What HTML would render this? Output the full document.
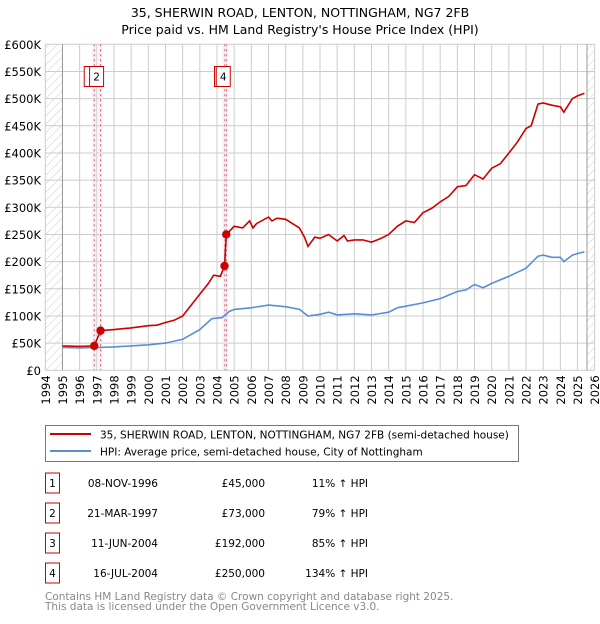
<!DOCTYPE html>
<html><head><meta charset="utf-8"><style>
body{margin:0;background:#fff;width:600px;height:620px;overflow:hidden;font-family:"DejaVu Sans","Liberation Sans",sans-serif}
svg text{font-family:"DejaVu Sans","Liberation Sans",sans-serif}
</style></head><body>
<svg id="chart" width="600" height="620" viewBox="0 0 600 620">
<g id="grid"></g><g id="series"></g><g id="axes"></g>
<text x="300" y="17" text-anchor="middle" font-size="12.5">35, SHERWIN ROAD, LENTON, NOTTINGHAM, NG7 2FB</text>
<text x="300" y="34" text-anchor="middle" font-size="12.5">Price paid vs. HM Land Registry's House Price Index (HPI)</text>
<g>
<rect x="45.5" y="425.5" width="473" height="36" fill="#fff" stroke="#777"/>
<line x1="50" y1="434" x2="91" y2="434" stroke="#cc0000" stroke-width="2"/>
<text x="100" y="438.5" font-size="10.5">35, SHERWIN ROAD, LENTON, NOTTINGHAM, NG7 2FB (semi-detached house)</text>
<line x1="50" y1="451" x2="91" y2="451" stroke="#5b8dd6" stroke-width="2"/>
<text x="100" y="455.5" font-size="10.5">HPI: Average price, semi-detached house, City of Nottingham</text>
</g>
<g id="table" font-size="10.5"></g>
<text x="45" y="600" font-size="10.5" fill="#888">Contains HM Land Registry data © Crown copyright and database right 2025.</text>
<text x="45" y="610" font-size="10.5" fill="#888">This data is licensed under the Open Government Licence v3.0.</text>
</svg>
<script>
const NS="http://www.w3.org/2000/svg";
const redT=[1995,1996,1996.85,1997.22,1998,1999,2000,2000.5,2001,2001.5,2002,2002.5,2003,2003.5,2003.8,2004.2,2004.44,2004.54,2005,2005.5,2005.9,2006.1,2006.3,2007,2007.2,2007.5,2008,2008.5,2008.8,2009.1,2009.3,2009.7,2010,2010.5,2011,2011.4,2011.6,2012,2012.5,2013,2013.5,2014,2014.5,2015,2015.5,2016,2016.5,2017,2017.5,2018,2018.5,2019,2019.5,2020,2020.5,2021,2021.5,2022,2022.3,2022.7,2023,2023.5,2024,2024.2,2024.7,2025,2025.4];
const redV=[45,44,45,73,75,78,82,83,88,92,100,120,140,160,175,173,192,250,265,262,275,262,270,282,275,280,278,268,262,245,228,245,243,250,238,248,238,240,240,236,242,250,265,275,272,290,298,310,320,338,340,360,352,372,380,400,420,445,450,490,492,488,485,475,500,505,510];
const blueT=[1995,1996,1997,1998,1999,2000,2001,2002,2003,2003.7,2004.3,2004.7,2005,2006,2007,2008,2008.8,2009.3,2010,2010.5,2011,2012,2013,2014,2014.5,2015,2016,2017,2018,2018.5,2019,2019.5,2020,2021,2022,2022.7,2023,2023.5,2024,2024.2,2024.7,2025,2025.4];
const blueV=[42,41,42,43,45,47,50,57,75,95,97,108,112,115,120,117,112,100,103,107,102,104,102,107,115,118,124,132,145,148,158,152,160,173,188,210,212,208,208,200,212,215,218];
const saleT=[1996.85,1997.22,2004.44,2004.54];
const saleV=[45,73,192,250];
const saleLabels=["1","2","3","4"];
const saleDates=["08-NOV-1996","21-MAR-1997","11-JUN-2004","16-JUL-2004"];
const salePrices=["£45,000","£73,000","£192,000","£250,000"];
const saleHpi=["11% ↑ HPI","79% ↑ HPI","85% ↑ HPI","134% ↑ HPI"];
const yTicks=[0,50,100,150,200,250,300,350,400,450,500,550,600];
const yTickLabels=["£0","£50K","£100K","£150K","£200K","£250K","£300K","£350K","£400K","£450K","£500K","£550K","£600K"];
const xTicks=[1994,1995,1996,1997,1998,1999,2000,2001,2002,2003,2004,2005,2006,2007,2008,2009,2010,2011,2012,2013,2014,2015,2016,2017,2018,2019,2020,2021,2022,2023,2024,2025,2026];
const X0=45.3,X1=594.7,Y0=370.3,Y1=44.3;
const xs=t=>X0+(t-1994)/32*(X1-X0);
const ys=v=>Y0-v/600*(Y0-Y1);
function mk(tag,attrs,parent){const e=document.createElementNS(NS,tag);for(const k in attrs)e.setAttribute(k,attrs[k]);parent.appendChild(e);return e;}
const grid=document.getElementById('grid'),series=document.getElementById('series'),axes=document.getElementById('axes'),table=document.getElementById('table');
const defs=mk('defs',{},grid);
const pat=mk('pattern',{id:'hatch',width:6,height:6,patternUnits:'userSpaceOnUse',patternTransform:'rotate(45)'},defs);
mk('line',{x1:0,y1:0,x2:0,y2:6,stroke:'#ccc','stroke-width':1},pat);
let h1=mk('rect',{x:xs(1994),y:Y1,width:xs(1995)-xs(1994),height:Y0-Y1,fill:'url(#hatch)'},grid);


let h2=mk('rect',{x:xs(2025.55),y:Y1,width:X1-xs(2025.55),height:Y0-Y1,fill:'url(#hatch)'},grid);


xTicks.forEach(t=>{mk('line',{x1:xs(t),y1:Y1,x2:xs(t),y2:Y0,stroke:'#ccc','stroke-width':1},grid);
 const tx=mk('text',{x:0,y:0,transform:`translate(${xs(t)+4.5},${Y0+5}) rotate(-90)`,'text-anchor':'end','font-size':'11.5'},axes);tx.textContent=t;
 
 });
yTicks.forEach((v,i)=>{mk('line',{x1:X0,y1:ys(v),x2:X1,y2:ys(v),stroke:'#ccc','stroke-width':1},grid);
 const tx=mk('text',{x:41,y:ys(v)+4.5,'text-anchor':'end','font-size':'11.5'},axes);tx.textContent=yTickLabels[i];
 
 });
mk('line',{x1:xs(1995),y1:Y1,x2:xs(1995),y2:Y0,stroke:'#999'},grid);
mk('line',{x1:xs(2025.55),y1:Y1,x2:xs(2025.55),y2:Y0,stroke:'#999'},grid);
saleT.forEach(t=>{mk('rect',{x:xs(t)-2,y:Y1,width:4,height:Y0-Y1,fill:'#dde6f5',opacity:0.5},grid);
 mk('line',{x1:xs(t),y1:Y1,x2:xs(t),y2:Y0,stroke:'#ee5555','stroke-width':1,'stroke-dasharray':'2,3'},grid);});
const path=(T,V)=>T.map((t,i)=>(i?'L':'M')+xs(t).toFixed(1)+','+ys(V[i]).toFixed(1)).join('');
const bl=mk('path',{d:path(blueT,blueV),fill:'none',stroke:'#5b8dd6','stroke-width':1.6},series);


const rl=mk('path',{d:path(redT,redV),fill:'none',stroke:'#cc0000','stroke-width':1.6},series);


saleT.forEach((t,i)=>{const c=mk('circle',{cx:xs(t),cy:ys(saleV[i]),r:4.2,fill:'#cc0000'},series);
 
 });
[0,1,2,3].forEach(i=>{const bx=xs(saleT[i])-(i==1?11:10);const g=mk('g',{},series);
 
 
 mk('rect',{x:bx,y:66.5,width:14,height:20,fill:'#fff',stroke:'#cc0000'},g);
 const tx=mk('text',{x:bx+7,y:80.5,'text-anchor':'middle','font-size':'10.5'},g);tx.textContent=saleLabels[i];});
saleT.forEach((t,i)=>{const cy=483+i*30;const g=mk('g',{},table);
 
 
 mk('rect',{x:45.5,y:cy-10,width:14,height:20,fill:'#fff',stroke:'#cc0000'},g);
 let a=mk('text',{x:52.5,y:cy+4,'text-anchor':'middle'},g);a.textContent=saleLabels[i];
 let b=mk('text',{x:158,y:cy+4,'text-anchor':'end'},g);b.textContent=saleDates[i];
 let c=mk('text',{x:265,y:cy+4,'text-anchor':'end'},g);c.textContent=salePrices[i];
 let d=mk('text',{x:368,y:cy+4,'text-anchor':'end'},g);d.textContent=saleHpi[i];});
</script>
</body></html>
